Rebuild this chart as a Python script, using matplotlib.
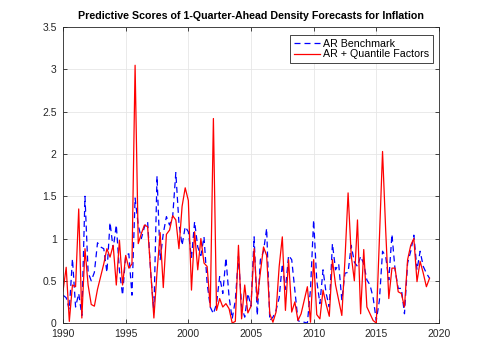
import numpy as np
import matplotlib.pyplot as plt

plt.rcParams['font.family'] = ['Liberation Sans', 'DejaVu Sans']

# Квартальные данные, 1990Q1 - 2019Q2.
start_year = 1990
n_quarters = 118

# AR Benchmark (синяя пунктирная).
ar_bench = [
    0.33, 0.30, 0.16, 0.76, 0.19, 0.35, 0.09, 1.50, 0.60, 0.50,
    0.60, 0.95, 0.90, 0.88, 0.60, 1.19, 0.88, 1.16, 0.62, 0.33,
    0.80, 0.82, 0.33, 1.48, 1.16, 1.00, 1.14, 1.20, 0.59, 0.13,
    1.74, 0.75, 1.06, 1.26, 1.16, 1.26, 1.78, 1.18, 0.92, 1.14,
    1.08, 0.77, 1.20, 0.90, 0.80, 1.02, 0.47, 0.19, 0.11, 0.23,
    0.55, 0.35, 0.77, 0.31, 0.05, 0.27, 0.79, 0.20, 0.07, 0.35,
    0.20, 1.02, 0.09, 0.75, 0.85, 1.12, 0.03, 0.07, 0.15, 0.30,
    0.70, 0.40, 0.80, 0.75, 0.39, 0.03, 0.01, 0.01, 0.00, 0.40,
    1.22, 0.50, 0.23, 0.63, 0.35, 0.19, 0.94, 0.63, 0.70, 0.27,
    0.59, 0.60, 0.92, 0.72, 0.67, 0.79, 0.70, 0.51, 0.45, 0.30,
    0.03, 0.27, 0.85, 0.79, 0.51, 1.05, 0.63, 0.41, 0.41, 0.11,
    0.71, 0.85, 1.04, 0.63, 0.85, 0.67, 0.59, 0.53,
]

# AR + Quantile Factors (красная сплошная).
ar_qf = [
    0.38, 0.66, 0.02, 0.45, 0.43, 1.35, 0.06, 0.88, 0.45, 0.22,
    0.20, 0.40, 0.55, 0.70, 0.88, 0.78, 0.92, 0.45, 0.98, 0.45,
    0.80, 0.65, 0.70, 3.05, 0.94, 1.06, 1.16, 1.14, 0.60, 0.06,
    0.60, 1.07, 0.42, 1.05, 1.10, 1.27, 1.22, 0.88, 1.38, 1.60,
    1.45, 0.39, 1.08, 0.63, 1.00, 0.71, 0.67, 0.19, 2.42, 0.15,
    0.29, 0.19, 0.23, 0.17, 0.00, 0.02, 0.92, 0.05, 0.45, 0.12,
    0.20, 0.88, 0.27, 0.60, 0.90, 0.80, 0.11, 0.01, 0.13, 0.67,
    1.02, 0.15, 0.75, 0.13, 0.25, 0.03, 0.11, 0.27, 0.43, 0.01,
    0.75, 0.10, 0.05, 0.39, 0.22, 0.08, 0.75, 0.45, 0.27, 0.09,
    0.75, 1.54, 0.80, 0.50, 1.22, 0.11, 0.87, 0.19, 0.11, 0.03,
    0.00, 1.00, 2.03, 1.10, 0.29, 0.65, 0.65, 0.37, 0.35, 0.19,
    0.75, 0.92, 1.00, 0.49, 0.73, 0.59, 0.43, 0.53,
]

x_ticks = [1990, 1995, 2000, 2005, 2010, 2015, 2020]
y_ticks = [0, 0.5, 1, 1.5, 2, 2.5, 3, 3.5]
y_labels = ['0', '0.5', '1', '1.5', '2', '2.5', '3', '3.5']

t = start_year + np.arange(n_quarters) / 4.0

fig = plt.figure(figsize=(4.85, 3.63), dpi=100)
ax = fig.add_axes([0.13, 0.11, 0.775, 0.815])

ax.plot(t, ar_bench, color='#0000ff', lw=0.9, linestyle=(0, (4.8, 3.2)),
        label='AR Benchmark')
ax.plot(t, ar_qf, color='#ff0000', lw=0.9, label='AR + Quantile Factors')

ax.set_xlim(1990, 2020)
ax.set_ylim(0, 3.5)
ax.set_xticks(x_ticks)
ax.set_yticks(y_ticks)
ax.set_yticklabels(y_labels)
ax.grid(True, color='#e6e6e6', lw=0.6)
ax.set_axisbelow(True)
ax.tick_params(direction='in', top=True, right=True, length=3, width=0.6,
               labelsize=7.5, colors='#262626')
ax.tick_params(axis='x', pad=4.5)
ax.tick_params(axis='y', pad=4.5)
for s in ax.spines.values():
    s.set_color('#262626')
    s.set_linewidth(0.6)

ax.set_title('Predictive Scores of 1-Quarter-Ahead Density Forecasts for Inflation',
             fontsize=7.7, fontweight='bold', pad=6)

leg = ax.legend(loc='upper right', bbox_to_anchor=(0.984, 0.973),
                borderaxespad=0, fontsize=7.7, fancybox=False,
                framealpha=1, edgecolor='#262626',
                handlelength=2.4, handletextpad=0.3, borderpad=0.35,
                labelspacing=0.05)
leg.get_frame().set_linewidth(0.6)

fig.savefig('out.png', dpi=100)
